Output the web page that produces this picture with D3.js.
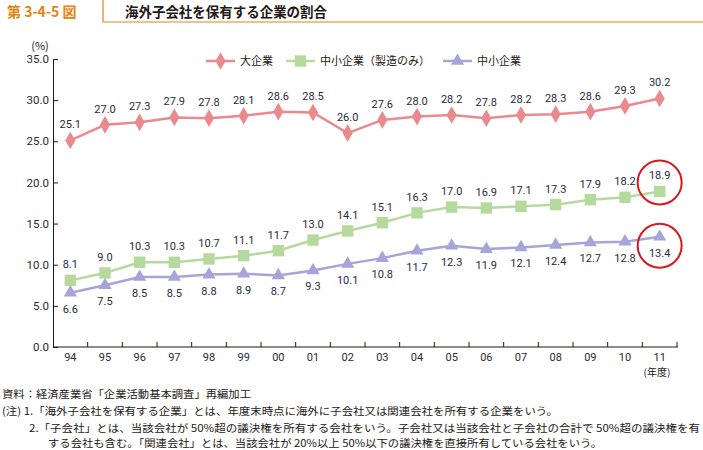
<!DOCTYPE html>
<html><head><meta charset="utf-8">
<script src="https://cdn.jsdelivr.net/npm/d3@7"></script>
<style>
body{margin:0;background:#fff;}
svg{display:block;font-family:"Noto Sans CJK JP","Noto Sans",sans-serif;}
</style></head>
<body>
<svg id="c" width="703" height="450"></svg>
<script>
const years = ["94","95","96","97","98","99","00","01","02","03","04","05","06","07","08","09","10","11"];
const large = [25.1,27.0,27.3,27.9,27.8,28.1,28.6,28.5,26.0,27.6,28.0,28.2,27.8,28.2,28.3,28.6,29.3,30.2];
const smeMfg = [8.1,9.0,10.3,10.3,10.7,11.1,11.7,13.0,14.1,15.1,16.3,17.0,16.9,17.1,17.3,17.9,18.2,18.9];
const sme = [6.6,7.5,8.5,8.5,8.8,8.9,8.7,9.3,10.1,10.8,11.7,12.3,11.9,12.1,12.4,12.7,12.8,13.4];
const yTicks = [0,5,10,15,20,25,30,35];
const seriesNames = ["大企業","中小企業（製造のみ）","中小企業"];

const svg = d3.select("#c");
const textCol = "#231815";
const orange = "#E8820E";
const colors = ["#E98A8F","#B6DA9E","#A6A4D8"];

// header
svg.append("line").attr("x1",103).attr("x2",703).attr("y1",22).attr("y2",22).attr("stroke",orange).attr("stroke-width",1.2);
svg.append("line").attr("x1",103).attr("x2",103).attr("y1",0).attr("y2",22).attr("stroke",orange).attr("stroke-width",1.2);
svg.append("text").attr("x",7).attr("y",17).attr("fill",orange).attr("font-size",14).attr("font-weight","bold").text("第 3-4-5 図");
svg.append("text").attr("x",125).attr("y",17).attr("fill",textCol).attr("font-size",14).attr("font-weight","bold")
  .attr("textLength",202).attr("lengthAdjust","spacingAndGlyphs").text("海外子会社を保有する企業の割合");

const x = d3.scaleBand().domain(years).range([53,677]);
const y = d3.scaleLinear().domain([0,35]).range([347,59]);

// axes
const yAxis = d3.axisLeft(y).tickValues(yTicks).tickFormat(d3.format(".1f")).tickSize(5).tickSizeOuter(0);
const gy = svg.append("g").attr("transform","translate(53,0)").call(yAxis);
gy.select(".domain").attr("stroke",textCol);
gy.selectAll(".tick line").attr("stroke",textCol).attr("x2",5).attr("x1",0);
gy.selectAll(".tick text").attr("x",-4).attr("fill","#2a2a3a").attr("font-size",11.5).attr("font-family","Liberation Sans Narrow, Roboto, sans-serif");

const gx = svg.append("g").attr("transform","translate(0,347)");
gx.append("line").attr("x1",53).attr("x2",x.range()[1]+1).attr("stroke",textCol);
gx.selectAll("line.t").data(years.slice(1).concat(["end"])).enter().append("line")
  .attr("x1",(d,i)=>53+x.step()*(i+1)).attr("x2",(d,i)=>53+x.step()*(i+1))
  .attr("y1",0).attr("y2",-5).attr("stroke",textCol);
gx.selectAll("text").data(years).enter().append("text")
  .attr("x",d=>x(d)+x.bandwidth()/2).attr("y",14).attr("text-anchor","middle")
  .attr("fill","#2a2a3a").attr("font-size",11).attr("font-family","Liberation Sans Narrow, Roboto, sans-serif").text(d=>d);
svg.append("text").attr("x",657).attr("y",376).attr("text-anchor","middle").attr("fill",textCol).attr("font-size",10).text("(年度)");
svg.append("text").attr("x",40).attr("y",50).attr("text-anchor","middle").attr("fill",textCol).attr("font-size",11).text("(%)");

const cx = d => x(d)+x.bandwidth()/2;
const line = d3.line().x((d,i)=>cx(years[i])).y(d=>y(d));
const data = [large, smeMfg, sme];

data.forEach((vals,si)=>{
  svg.append("path").datum(vals).attr("d",line).attr("fill","none").attr("stroke",colors[si]).attr("stroke-width",2.5);
});
// markers
const diamond = d3.symbol().type(d3.symbolDiamond).size(90);
const square = d3.symbol().type(d3.symbolSquare).size(130);
const tri = d3.symbol().type(d3.symbolTriangle).size(75);
const syms = [diamond, square, tri];
data.forEach((vals,si)=>{
  svg.append("g").selectAll("path").data(vals).enter().append("path")
    .attr("d",syms[si]).attr("fill",colors[si])
    .attr("transform",(d,i)=>`translate(${cx(years[i])},${y(d)})`);
});
// labels
const lblOff = [-12,-12,20];
data.forEach((vals,si)=>{
  svg.append("g").selectAll("text").data(vals).enter().append("text")
    .attr("x",(d,i)=>cx(years[i])).attr("y",(d,i)=>y(d)+lblOff[si])
    .attr("text-anchor","middle").attr("fill","#2a2a3a").attr("font-size",11)
    .attr("font-family","Liberation Sans Narrow, Roboto, sans-serif")
    .text(d=>d.toFixed(1));
});

// red circles on last values
const lastX = cx(years[years.length-1]);
svg.append("circle").attr("cx",lastX).attr("cy",y(smeMfg[17])-9).attr("r",22).attr("fill","none").attr("stroke","#D7181F").attr("stroke-width",2);
svg.append("circle").attr("cx",lastX).attr("cy",y(sme[17])+9).attr("r",22).attr("fill","none").attr("stroke","#D7181F").attr("stroke-width",2);

// legend
const legX = [206,286,443];
seriesNames.forEach((n,i)=>{
  const g = svg.append("g").attr("transform",`translate(${legX[i]},61)`);
  g.append("line").attr("x1",0).attr("x2",29).attr("stroke",colors[i]).attr("stroke-width",2.5);
  g.append("path").attr("d",syms[i]).attr("fill",colors[i]).attr("transform","translate(14.5,0)");
  g.append("text").attr("x",34).attr("y",4).attr("fill",textCol).attr("font-size",11).text(n);
});

// notes
const notes = [
  {x:2,y:398,w:249,t:"資料：経済産業省「企業活動基本調査」再編加工"},
  {x:2,y:415,w:556,t:"(注) 1.「海外子会社を保有する企業」とは、年度末時点に海外に子会社又は関連会社を所有する企業をいう。"},
  {x:29,y:432,w:671,t:"2.「子会社」とは、当該会社が 50%超の議決権を所有する会社をいう。子会社又は当該会社と子会社の合計で 50%超の議決権を有"},
  {x:48,y:447,w:554,t:"する会社も含む。「関連会社」とは、当該会社が 20%以上 50%以下の議決権を直接所有している会社をいう。"}
];
svg.append("g").selectAll("text").data(notes).enter().append("text")
  .attr("x",d=>d.x).attr("y",d=>d.y).attr("fill",textCol).attr("font-size",10.5)
  .attr("textLength",d=>d.w).attr("lengthAdjust","spacingAndGlyphs").text(d=>d.t);
</script>
</body></html>
